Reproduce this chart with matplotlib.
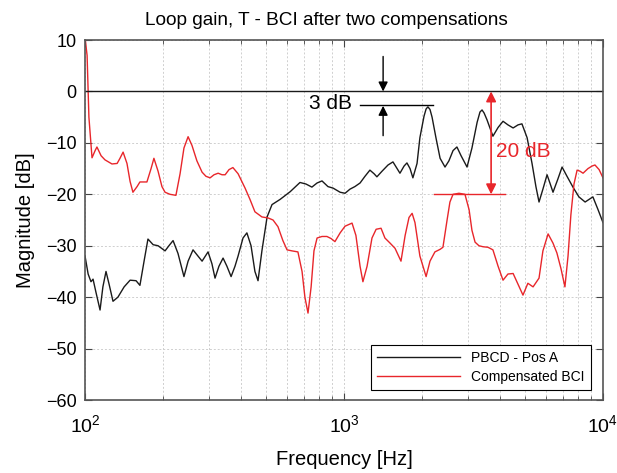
import numpy as np
import matplotlib
matplotlib.use("Agg")
import matplotlib.pyplot as plt

plt.rcParams["font.family"] = ["Liberation Sans", "DejaVu Sans"]

# log10(frequency in Hz) and magnitude in dB
pbcd_logf = [2.000, 2.012, 2.023, 2.031, 2.042, 2.058, 2.069, 2.081, 2.093, 2.108,
             2.127, 2.151, 2.174, 2.197, 2.212, 2.228, 2.243, 2.263, 2.282, 2.309,
             2.324, 2.340, 2.359, 2.382, 2.398, 2.417, 2.436, 2.452, 2.475, 2.490,
             2.502, 2.517, 2.533, 2.548, 2.564, 2.579, 2.591, 2.610, 2.625, 2.641,
             2.656, 2.668, 2.683, 2.703, 2.722, 2.753, 2.792, 2.830, 2.853, 2.876,
             2.896, 2.915, 2.938, 2.958, 2.985, 3.004, 3.023, 3.042, 3.062, 3.081,
             3.100, 3.116, 3.127, 3.147, 3.170, 3.189, 3.205, 3.216, 3.232, 3.243,
             3.255, 3.266, 3.282, 3.293, 3.309, 3.317, 3.324, 3.332, 3.340, 3.355,
             3.371, 3.390,
             3.405, 3.421, 3.436, 3.452, 3.475, 3.494, 3.514, 3.525, 3.533, 3.541,
             3.552, 3.575,
             3.595, 3.614, 3.633, 3.653, 3.672, 3.687, 3.707, 3.726, 3.741, 3.753,
             3.768, 3.784, 3.795, 3.807, 3.826, 3.842, 3.861, 3.884, 3.907, 3.931,
             3.946, 3.961, 3.981, 4.000]
pbcd_db = [-32, -35.5, -37, -36.5, -39, -42.5, -38, -35, -37.5, -40.8,
           -40, -38, -36.7, -36.8, -37.7, -33, -28.7, -29.8, -30, -31,
           -30, -29, -31.5, -36, -33, -30.8, -32, -33, -31.2, -33.5,
           -36.3, -34, -32.4, -34, -36, -34, -32, -28.5, -27.5, -30,
           -35, -36.8, -31, -24.4, -22, -21, -19.5, -17.7, -18, -18.6,
           -17.8, -17.4, -18.5, -18.8, -19.6, -19.8, -19, -18.5, -17.8, -16.5,
           -15.3, -16, -16.6, -15.5, -14.3, -13.7, -15, -15.9, -14.5, -13.9,
           -15, -16.8, -14, -9, -4.8, -3.4, -3.0, -3.5, -5.0, -9,
           -13, -14.7,
           -13.5, -11.5, -10.8, -12.5, -14.7, -11, -6, -4.0, -3.6, -4.2,
           -5.5, -8.7,
           -7, -5.8, -6.5, -7.1, -6.5, -6.3, -9, -14, -18.5, -21.5,
           -19, -16.2, -17.8, -19.6, -17, -14.7, -16.5, -18.6, -20.5, -21.5,
           -21, -20.5, -23, -25.5]

bci_logf = [2.000, 2.008, 2.015, 2.027, 2.039, 2.046, 2.062, 2.077, 2.104, 2.124,
            2.135, 2.147, 2.162, 2.174, 2.185, 2.201, 2.212, 2.239, 2.255, 2.266,
            2.282, 2.297, 2.309, 2.328, 2.351, 2.367, 2.382, 2.398, 2.413, 2.432,
            2.452, 2.467, 2.483, 2.498, 2.514, 2.529, 2.541, 2.556, 2.571, 2.591,
            2.618, 2.637, 2.656, 2.683, 2.707, 2.726, 2.745, 2.764, 2.780, 2.799,
            2.822, 2.838, 2.849, 2.861, 2.873, 2.884, 2.896, 2.915, 2.934, 2.950,
            2.965, 2.985, 3.004, 3.031, 3.046, 3.062, 3.073, 3.089, 3.108, 3.124,
            3.143, 3.158, 3.178, 3.197, 3.220, 3.236, 3.251, 3.263, 3.274, 3.293,
            3.317, 3.332, 3.351, 3.371, 3.382, 3.398, 3.409, 3.421, 3.444, 3.467,
            3.483, 3.494, 3.506, 3.521, 3.537, 3.556, 3.575, 3.595, 3.614, 3.633,
            3.653, 3.672, 3.691, 3.710, 3.730, 3.753, 3.768, 3.788, 3.807, 3.822,
            3.838, 3.853, 3.865, 3.876, 3.888, 3.900, 3.911, 3.923, 3.942, 3.958,
            3.969, 3.985, 4.000]
bci_db = [10.5, 7, -5, -12.9, -11.5, -10.8, -12.5, -13.3, -14.1, -14,
          -13, -11.8, -14, -17.5, -19.6, -18.5, -17.6, -17.6, -15, -13,
          -15.5, -18.5, -19.6, -20, -20.2, -16, -11, -8.8, -10.5, -13.5,
          -15.7, -16.5, -16.8, -16.2, -15.9, -16.2, -16.2, -15.2, -14.8, -16,
          -18.8, -21, -23.4, -24.4, -24.6, -25, -26.3, -29, -30.8, -31,
          -31.2, -35, -40, -43.1, -38, -31, -28.5, -28.2, -28.2, -28.6,
          -29.2, -27.5, -26.2, -25.6, -28, -34, -37, -34, -28.5, -26.8,
          -26.6, -28.5, -29.5, -30.5, -33, -28, -24.5, -23.7, -25.5, -32,
          -36, -33, -31.2, -30.7, -30.3, -25, -21.5, -20, -19.8, -20,
          -23, -27, -29.3, -30, -30.2, -30.3, -30.8, -34, -36.7, -35.5,
          -35.4, -37.5, -39.6, -37.3, -38, -36.3, -31, -27.7, -29.5, -31.4,
          -34.5, -38, -32, -24, -18, -15.3, -15.5, -15.9, -15, -14.5,
          -14.3, -15.2, -16.8]

series_labels = ["PBCD - Pos A", "Compensated BCI"]
y_ticks = [-60, -50, -40, -30, -20, -10, 0, 10]

fig = plt.figure(figsize=(6.17, 4.73), dpi=100)
ax = fig.add_axes([0.1378, 0.1543, 0.8395, 0.7611])

pbcd_f = 10 ** np.array(pbcd_logf)
bci_f = 10 ** np.array(bci_logf)
ax.semilogx(pbcd_f, pbcd_db, color="#1a1a1a", lw=1.0, label=series_labels[0])
ax.semilogx(bci_f, bci_db, color="#e8262b", lw=1.0, label=series_labels[1])
ax.axhline(0, color="#1a1a1a", lw=1.0)

ax.set_xlim(1e2, 1e4)
ax.set_ylim(-60, 10)
ax.set_yticks(y_ticks)
grid_kw = dict(ls=(0, (2, 2)), color="#cfcfcf", lw=0.7)
ax.grid(True, which="both", axis="x", **grid_kw)
ax.grid(True, which="major", axis="y", **grid_kw)
ax.tick_params(which="both", direction="in", top=True, right=True, labelsize=13,
               color="#444444")
ax.tick_params(axis="x", which="major", length=5, pad=10, labelsize=14)
ax.tick_params(axis="y", which="major", length=5, pad=6)
ax.tick_params(which="minor", length=3)
for s in ax.spines.values():
    s.set_color("#555555")
    s.set_linewidth(1.2)

ax.set_title("Loop gain, T - BCI after two compensations", fontsize=13.7,
             x=0.465, pad=11)
ax.set_xlabel("Frequency [Hz]", fontsize=14.5, labelpad=10)
ax.set_ylabel("Magnitude [dB]", fontsize=14.5, labelpad=8)

# 3 dB margin annotation
ax.plot([10 ** 3.062, 10 ** 3.344], [-2.6, -2.6], color="black", lw=1.0)
ax.annotate("", xy=(10 ** 3.151, 0), xytext=(10 ** 3.151, 6.8),
            arrowprops=dict(arrowstyle="-|>", color="black", lw=1.0,
                            mutation_scale=14, shrinkA=0, shrinkB=0))
ax.annotate("", xy=(10 ** 3.151, -2.8), xytext=(10 ** 3.151, -8.6),
            arrowprops=dict(arrowstyle="-|>", color="black", lw=1.0,
                            mutation_scale=14, shrinkA=0, shrinkB=0))
ax.text(10 ** 3.031, -2.4, "3 dB", ha="right", va="center", fontsize=15)

# 20 dB annotation
ax.plot([10 ** 3.347, 10 ** 3.622], [-20, -20], color="#e8262b", lw=1.0)
ax.annotate("", xy=(10 ** 3.568, 0), xytext=(10 ** 3.568, -20),
            arrowprops=dict(arrowstyle="<|-|>", color="#e8262b", lw=1.2,
                            mutation_scale=15, shrinkA=0, shrinkB=0))
ax.text(10 ** 3.588, -11.7, "20 dB", ha="left", va="center", fontsize=15,
        color="#e8262b")

leg = ax.legend(loc="lower right", bbox_to_anchor=(0.977, 0.028), fontsize=10,
                handlelength=6.0, fancybox=False, edgecolor="black",
                framealpha=1, borderpad=0.45, labelspacing=0.35,
                borderaxespad=0)
leg.get_frame().set_linewidth(0.8)

fig.savefig("out.png", dpi=100)
